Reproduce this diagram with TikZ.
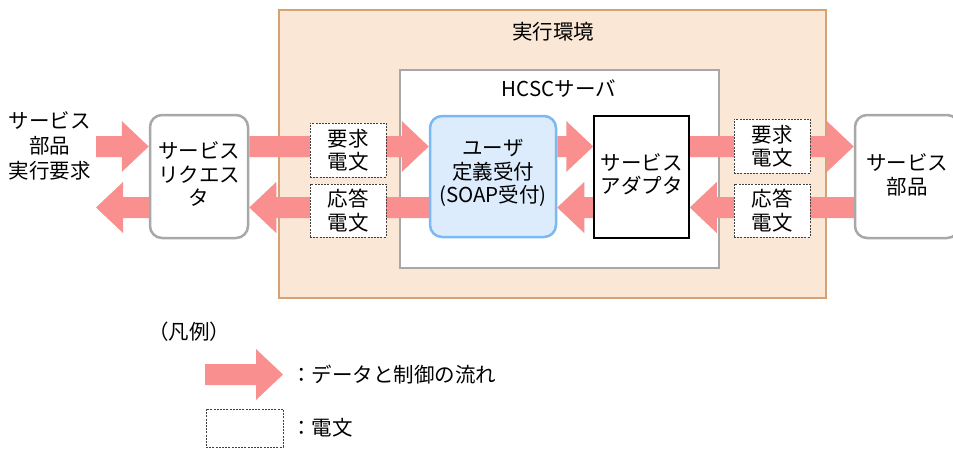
\documentclass[tikz,border=0pt]{standalone}
\usepackage{fontspec}
\setmainfont{Noto Sans CJK JP}
\usetikzlibrary{calc}
\definecolor{envfill}{RGB}{250,231,214}
\definecolor{envline}{RGB}{214,162,116}
\definecolor{arrc}{RGB}{249,143,143}
\definecolor{udfill}{RGB}{220,236,252}
\definecolor{udline}{RGB}{124,185,242}
\definecolor{gline}{RGB}{168,168,168}
\pgfdeclarelayer{bg}
\pgfdeclarelayer{mid}
\pgfsetlayers{bg,mid,main}
\tikzset{
  base/.style={font=\fontsize{20.5}{23.5}\selectfont, align=center, inner sep=0pt},
  envbox/.style={draw=envline, fill=envfill, line width=1.5pt},
  srvbox/.style={draw=gline, fill=white, line width=2.5pt},
  udbox/.style={base, draw=udline, fill=udfill, line width=2.5pt, rounded corners=12pt},
  grbox/.style={base, draw=gline, fill=white, line width=2.5pt, rounded corners=12pt},
  adbox/.style={base, draw=black, fill=white, line width=1.5pt},
  msgbox/.style={base, draw=black!75, fill=white, line width=0.7pt, dash pattern=on 2pt off 1.2pt},
  fat/.style={fill=arrc},
  txt/.style={base}
}
\newcommand\rarrow[2]{\fill[fat] let \p1=#1, \p2=#2 in
  (\x1,\y1+10.5pt) -- (\x2-27pt,\y1+10.5pt) -- (\x2-27pt,\y1+25.5pt) -- (\x2,\y1)
  -- (\x2-27pt,\y1-25.5pt) -- (\x2-27pt,\y1-10.5pt) -- (\x1,\y1-10.5pt) -- cycle;}
\newcommand\larrow[2]{\fill[fat] let \p1=#1, \p2=#2 in
  (\x1,\y1+10.5pt) -- (\x2+27pt,\y1+10.5pt) -- (\x2+27pt,\y1+25.5pt) -- (\x2,\y1)
  -- (\x2+27pt,\y1-25.5pt) -- (\x2+27pt,\y1-10.5pt) -- (\x1,\y1-10.5pt) -- cycle;}
\begin{document}
\begin{tikzpicture}[x=1pt,y=-1pt]
\useasboundingbox (0,0) rectangle (953,448);
% containers
\begin{pgfonlayer}{bg}
\node[envbox, minimum width=547pt, minimum height=288pt] (env) at (552.5,154) {};
\node[srvbox, minimum width=319pt, minimum height=198pt] (srv) at (559.5,169) {};
\end{pgfonlayer}
\node[txt] (envlbl) at (553,32) {実行環境};
\node[txt] (srvlbl) at (559,89) {HCSCサーバ};
% line heights
\coordinate (up) at (0,146.5);
\coordinate (dn) at (0,207.5);
\coordinate (lin) at (96,146.5);
\coordinate (lout) at (96,207.5);
% boxes
\node[txt, font=\fontsize{20.5}{25}\selectfont] (lefttxt) at (50,146) {サービス\\部品\\実行要求};
\node[grbox, minimum width=98pt, minimum height=123pt] (req) at (199,176.5) {};
\node[txt] (reqt) at (199,174) {サービス\\リクエス\\タ};
\node[udbox, minimum width=126pt, minimum height=121pt] (ud) at (493,176.5) {};
\node[txt] (udt) at (493,173) {ユーザ\\定義受付\\(SOAP受付)};
\node[adbox, minimum width=95pt, minimum height=122pt] (ad) at (641.5,177) {};
\node[txt] (adt) at (641.5,174) {サービス\\アダプタ};
\node[grbox, minimum width=104pt, minimum height=123pt] (part) at (907,176.5) {};
\node[txt] (partt) at (907,175) {サービス\\部品};
\node[msgbox, minimum width=76pt, minimum height=54pt] (m1) at (348,150) {要求\\電文};
\node[msgbox, minimum width=76pt, minimum height=53pt] (m2) at (348,210.5) {応答\\電文};
\node[msgbox, minimum width=76pt, minimum height=54pt] (m3) at (772,146) {要求\\電文};
\node[msgbox, minimum width=76pt, minimum height=53pt] (m4) at (772,210.5) {応答\\電文};
% arrows
\begin{pgfonlayer}{mid}
\rarrow{(lin)}{(req.west |- up)}
\rarrow{(req.east |- up)}{(ud.west |- up)}
\rarrow{(ud.east |- up)}{(ad.west |- up)}
\rarrow{(ad.east |- up)}{(part.west |- up)}
\larrow{(req.west |- dn)}{(lout)}
\larrow{(ud.west |- dn)}{(req.east |- dn)}
\larrow{(ad.west |- dn)}{(ud.east |- dn)}
\larrow{(part.west |- dn)}{(ad.east |- dn)}
\end{pgfonlayer}
% legend
\node[txt] (leg) at (189,332) {（凡例）};
\coordinate (lg1) at (205,374.5);
\coordinate (lg2) at (283,374.5);
\rarrow{(lg1)}{(lg2)}
\node[txt, anchor=west] (legt1) at (291,375) {：データと制御の流れ};
\node[msgbox, minimum width=77pt, minimum height=38pt] (legbox) at (244.5,428) {};
\node[txt, anchor=west] (legt2) at (291,428) {：電文};
\end{tikzpicture}
\end{document}
